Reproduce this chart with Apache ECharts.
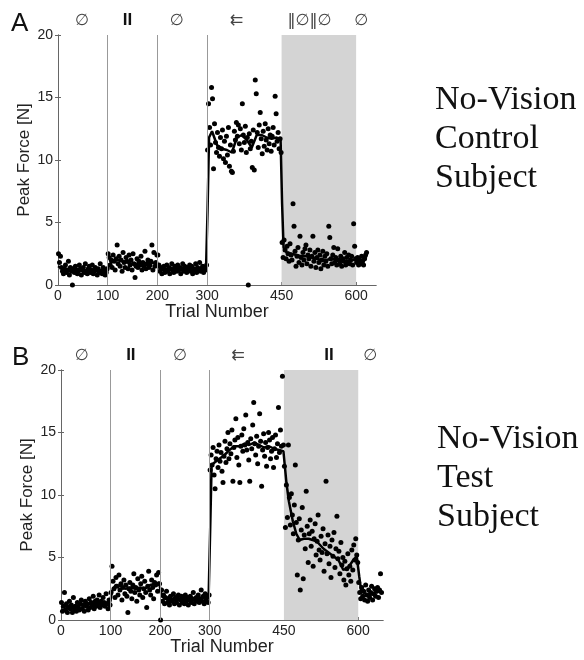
<!DOCTYPE html>
<html>
<head>
<meta charset="utf-8">
<script src="https://cdn.jsdelivr.net/npm/echarts@6/dist/echarts.min.js"></script>
<style>html,body{margin:0;padding:0;background:#fff}#chart{width:584px;height:660px}</style>
</head>
<body>
<div id="chart"></div>
<script>
// 每个条件块的起始试次（点位于 start+1, start+3, ...）
const blockStarts = [0, 100, 200, 300, 450, 600]
const xTicks = [0, 100, 200, 300, 450, 600]
const dividers = [100, 200, 300]
const shaded = [450, 600]

// 顶部条件标记
const condLabelsA = ['∅', 'II', '∅', '⇇', '‖∅‖∅', '∅']
const condLabelsB = ['∅', 'II', '∅', '⇇', 'II', '∅']
const condPosA = [48, 140, 239, 359, 506, 610]
const condPosB = [42, 141, 240, 357, 541, 624]

// A：No-Vision Control Subject，峰值力 [N]
const a1 = [2.5, 1.8, 2.3, 1.4, 1.1, 0.9, 1.3, 1.6, 1.0, 1.2,
  1.9, 0.8, 1.4, 1.1, 0.0, 1.3, 1.0, 1.5, 1.2, 0.9,
  1.1, 1.6, 1.3, 0.8, 1.2, 1.4, 1.0, 1.7, 1.1, 0.9,
  1.3, 1.5, 1.0, 1.2, 1.6, 0.9, 1.1, 1.4, 1.2, 0.8,
  1.3, 1.0, 1.7, 1.1, 0.9, 1.4, 1.2, 0.8, 1.0, 1.3]
const a2 = [2.5, 2.2, 1.6, 2.0, 1.4, 2.4, 1.9, 1.2, 2.1, 3.2,
  1.7, 2.3, 1.5, 2.0, 1.1, 2.6, 1.8, 1.4, 2.2, 1.9,
  1.3, 2.4, 1.6, 2.0, 1.2, 2.5, 1.7, 0.6, 1.5, 2.1,
  1.4, 1.9, 1.6, 2.3, 1.2, 1.8, 1.5, 2.7, 1.3, 1.7,
  2.0, 1.4, 1.6, 1.9, 3.2, 1.2, 2.6, 1.5, 1.8, 2.4]
const a3 = [2.4, 1.6, 1.1, 1.4, 0.9, 1.3, 1.5, 1.0, 1.2, 1.6,
  1.1, 1.4, 0.9, 1.3, 1.7, 1.2, 1.0, 1.5, 1.3, 1.1,
  1.6, 1.2, 1.4, 0.9, 1.3, 1.7, 1.1, 1.5, 1.2, 1.0,
  1.4, 1.3, 1.6, 1.1, 1.5, 0.9, 1.3, 1.2, 1.7, 1.0,
  1.4, 1.2, 1.8, 1.1, 1.3, 1.5, 1.0, 1.4, 1.2, 1.6]
const a4 = [10.8, 14.5, 12.6, 11.2, 15.8, 14.9, 9.3, 12.9, 11.4, 10.6,
  12.2, 11.0, 10.3, 11.8, 10.9, 12.4, 10.1, 11.5, 9.8, 11.9,
  10.4, 12.6, 9.5, 11.2, 9.1, 9.0, 10.7, 12.3, 11.6, 13.0,
  11.9, 12.8, 11.3, 12.5, 10.8, 14.5, 12.0, 11.4, 12.7, 10.6,
  11.8, 0.0, 12.1, 10.9, 11.5, 9.4, 12.4, 9.2, 16.4, 15.3,
  12.2, 11.0, 12.8, 13.8, 11.7, 10.5, 12.3, 11.1, 12.9, 11.6,
  10.8, 12.5, 11.3, 12.0, 10.7, 11.9, 12.6, 11.2, 15.1, 13.7,
  11.5, 12.2, 10.9, 11.7, 10.6]
const a5 = [3.4, 2.2, 3.6, 2.8, 2.1, 3.1, 2.5, 1.9, 3.3, 2.4,
  2.0, 6.5, 4.7, 2.7, 1.5, 2.3, 3.0, 1.8, 3.9, 2.2,
  1.6, 2.6, 2.0, 2.9, 3.2, 1.7, 2.4, 2.1, 2.8, 1.5,
  2.3, 3.9, 1.9, 2.6, 1.4, 2.2, 2.8, 1.8, 2.4, 1.3,
  2.0, 2.7, 1.6, 2.3, 1.9, 2.5, 1.5, 4.7, 3.8, 2.1,
  1.7, 2.4, 3.0, 1.8, 2.2, 1.6, 2.9, 2.0, 1.7, 2.3,
  1.5, 2.1, 1.9, 2.6, 1.6, 2.2, 1.8, 2.4, 1.7, 2.0,
  2.3, 1.6, 4.9, 3.1, 2.1]
const a6 = [1.8, 2.2, 1.6, 2.0, 1.7, 2.3, 1.9, 1.6, 2.1, 2.4, 2.6]
// 滑动平均曲线 [trial, N]
const meanA = [[0, 1.5], [5, 1.4], [10, 1.3], [20, 1.2], [30, 1.1], [40, 1.2], [50, 1.2], [60, 1.1],
  [70, 1.2], [80, 1.1], [90, 1.1], [99, 1.1], [102, 1.6], [110, 1.9], [120, 2.0], [130, 1.9],
  [140, 1.8], [150, 1.7], [160, 1.7], [170, 1.6], [180, 1.7], [190, 1.8], [199, 1.7], [203, 1.4],
  [210, 1.3], [220, 1.2], [230, 1.3], [240, 1.3], [250, 1.3], [260, 1.3], [270, 1.4], [280, 1.3],
  [290, 1.3], [298, 1.4], [301, 6.0], [304, 11.8], [310, 12.3], [320, 11.2], [330, 10.9], [340, 10.8],
  [350, 10.6], [360, 11.8], [370, 12.0], [380, 11.6], [390, 11.0], [400, 12.0], [410, 12.0], [420, 11.8],
  [430, 11.7], [440, 11.8], [448, 11.6], [451, 6.5], [454, 3.0], [460, 2.6], [470, 2.5], [480, 2.4],
  [490, 2.3], [500, 2.3], [510, 2.2], [520, 2.1], [530, 2.0], [540, 2.0], [550, 2.1], [560, 2.0],
  [570, 1.9], [580, 1.9], [590, 2.0], [600, 2.0], [610, 1.9], [621, 2.3]]

// B：No-Vision Test Subject，峰值力 [N]
const b1 = [1.4, 0.7, 1.1, 2.2, 0.8, 1.3, 0.6, 1.0, 1.5, 0.9,
  1.2, 0.6, 1.8, 0.9, 1.1, 0.7, 1.4, 1.0, 0.8, 1.3,
  1.6, 0.9, 1.2, 0.7, 1.5, 1.1, 1.3, 0.8, 1.7, 1.0,
  1.4, 1.2, 1.9, 0.9, 1.5, 1.1, 1.6, 1.3, 2.0, 1.0,
  1.5, 1.2, 1.8, 1.4, 1.1, 2.1, 1.3, 0.9, 1.6, 1.2]
const b2 = [2.2, 4.3, 3.1, 2.5, 1.8, 3.4, 2.7, 2.0, 3.6, 2.4,
  2.9, 1.6, 2.6, 3.2, 2.1, 2.8, 1.9, 0.6, 2.5, 3.0,
  2.3, 1.7, 2.8, 3.7, 2.2, 2.6, 1.5, 3.3, 2.4, 2.0,
  2.9, 3.5, 1.8, 2.5, 3.1, 2.2, 1.0, 2.7, 3.9, 2.4,
  2.0, 3.2, 2.6, 1.7, 3.0, 2.8, 3.6, 2.3, 3.8, 2.9]
const b3 = [0.0, 2.4, 1.5, 2.0, 1.3, 1.8, 2.3, 1.4, 1.7, 1.2,
  1.9, 1.5, 1.6, 2.1, 1.3, 1.8, 1.4, 1.7, 2.0, 1.2,
  1.6, 1.9, 1.4, 1.7, 1.3, 2.0, 1.5, 1.8, 1.2, 1.6,
  1.9, 1.4, 1.7, 2.2, 1.3, 1.6, 1.8, 1.5, 2.0, 1.4,
  1.7, 2.4, 1.5, 1.9, 1.3, 2.1, 1.6, 1.8, 1.4, 2.0]
const b4 = [12.0, 13.2, 12.4, 13.8, 11.6, 10.5, 12.9, 13.5, 12.2, 14.0,
  12.7, 13.4, 11.9, 11.0, 13.1, 14.3, 12.6, 13.7, 15.0, 12.9,
  14.1, 13.3, 15.2, 11.1, 13.8, 14.4, 16.1, 13.0, 14.6, 12.4,
  11.0, 13.9, 14.8, 13.5, 15.3, 14.0, 16.4, 13.6, 14.2, 12.8,
  11.1, 14.5, 13.7, 15.6, 17.4, 14.1, 13.2, 14.7, 12.5, 13.9,
  16.5, 14.3, 10.7, 13.6, 14.9, 13.1, 14.2, 12.3, 13.8, 15.0,
  14.4, 12.9, 13.5, 14.6, 12.2, 13.7, 14.8, 13.0, 14.1, 17.0,
  13.4, 15.2, 13.9, 19.5, 14.0]
const b5 = [12.3, 7.4, 10.8, 8.2, 14.0, 9.8, 7.6, 10.1, 8.4, 6.9,
  9.2, 12.4, 7.8, 3.6, 6.4, 8.1, 2.4, 7.2, 9.0, 3.3,
  6.8, 5.7, 10.3, 7.5, 4.6, 6.9, 8.0, 5.9, 7.1, 4.3,
  6.5, 7.7, 5.2, 6.3, 8.4, 5.6, 4.8, 6.7, 5.4, 7.3,
  3.9, 6.1, 11.1, 5.3, 6.8, 4.5, 5.9, 3.4, 6.4, 5.1,
  7.0, 4.2, 5.7, 8.3, 4.9, 5.5, 3.7, 6.2, 4.4, 5.0,
  3.2, 4.7, 2.8, 4.1, 5.3, 3.6, 4.3, 3.1, 5.6, 4.0,
  6.0, 4.8, 6.5, 5.2, 4.6]
const b6 = [3.0, 2.2, 1.7, 2.6, 1.9, 2.3, 1.6, 2.8, 2.0, 1.5,
  2.4, 1.8, 2.2, 2.7, 1.6, 2.1, 2.5, 1.9, 2.3, 2.6,
  1.8, 2.4, 3.7, 2.2]
const meanB = [[0, 1.0], [10, 1.1], [20, 1.0], [30, 1.1], [40, 1.2], [50, 1.2], [60, 1.3], [70, 1.3],
  [80, 1.4], [90, 1.4], [99, 1.4], [103, 2.3], [110, 2.8], [120, 2.7], [130, 2.5], [140, 2.6],
  [150, 2.5], [160, 2.6], [170, 2.5], [180, 2.8], [190, 2.9], [198, 3.0], [203, 1.9], [210, 1.7],
  [220, 1.6], [230, 1.6], [240, 1.7], [250, 1.6], [260, 1.6], [270, 1.7], [280, 1.7], [290, 1.8],
  [298, 1.8], [301, 7.0], [304, 12.4], [310, 12.6], [320, 12.9], [330, 13.2], [340, 13.6], [350, 13.9],
  [360, 13.9], [370, 14.1], [380, 14.0], [390, 14.2], [400, 14.0], [410, 13.8], [420, 13.9], [430, 13.7],
  [440, 13.6], [449, 13.5], [455, 11.0], [460, 9.5], [468, 7.9], [475, 6.9], [482, 6.4], [490, 6.5],
  [500, 6.5], [516, 6.3], [530, 5.7], [540, 5.4], [550, 5.1], [560, 4.8], [570, 4.0], [580, 4.2],
  [590, 4.8], [597, 5.1], [602, 3.5], [606, 2.3], [615, 2.1], [625, 2.0], [635, 2.2], [646, 2.3]]

const toPoints = (blocks) => blocks.map((vals, k) => vals.map((v, i) => [blockStarts[k] + 1 + 2 * i, v])).flat()
const pointsA = toPoints([a1, a2, a3, a4, a5, a6])
const pointsB = toPoints([b1, b2, b3, b4, b5, b6])

const sans = 'Liberation Sans'
const frame = '#666'

const panel = (gi, xMax, labels, labelPos) => {
  const xs = [
    {
      gridIndex: gi, type: 'value', min: 0, max: xMax,
      axisLine: { lineStyle: { color: frame, width: 1 } },
      axisTick: { inside: true, length: 3, customValues: xTicks, lineStyle: { color: frame } },
      axisLabel: { customValues: xTicks, color: '#222', fontFamily: sans, fontSize: 14, margin: 4 },
      splitLine: { show: false },
      name: 'Trial Number', nameLocation: 'middle', nameGap: 18, nameMoveOverlap: false,
      nameTextStyle: { color: '#222', fontFamily: sans, fontSize: 18 }
    },
    {
      gridIndex: gi, type: 'value', position: 'top', min: 0, max: xMax,
      axisLine: { lineStyle: { color: frame, width: 1 } },
      axisTick: { show: false },
      splitLine: { show: false },
      axisLabel: {
        customValues: labelPos, margin: 6,
        formatter: (v) => {
          const t = labels[labelPos.indexOf(v)]
          return t === 'II' ? '{b|II}' : '{n|' + t + '}'
        },
        rich: {
          b: { fontFamily: sans, fontWeight: 'bold', fontSize: 17, color: '#111' },
          n: { fontFamily: 'DejaVu Sans', fontSize: 16, color: '#444' }
        }
      }
    }
  ]
  const ys = [
    {
      gridIndex: gi, type: 'value', min: 0, max: 20, interval: 5,
      axisLine: { lineStyle: { color: frame, width: 1 } },
      axisTick: { inside: true, length: 3, lineStyle: { color: frame } },
      axisLabel: { color: '#222', fontFamily: sans, fontSize: 14, margin: 5 },
      splitLine: { show: false },
      name: 'Peak Force [N]', nameLocation: 'middle', nameGap: 25, nameMoveOverlap: false,
      nameTextStyle: { color: '#222', fontFamily: sans, fontSize: 17 }
    },
    {
      gridIndex: gi, type: 'value', position: 'right', min: 0, max: 20, interval: 5,
      axisLine: { lineStyle: { color: frame, width: 1 } },
      axisTick: { inside: true, length: 3, lineStyle: { color: frame } },
      axisLabel: { show: false },
      splitLine: { show: false }
    }
  ]
  return { xs, ys }
}

const pA = panel(0, 640, condLabelsA, condPosA)
const pB = panel(1, 650, condLabelsB, condPosB)

const scatterSeries = (gi, data) => ({
  type: 'scatter', xAxisIndex: gi * 2, yAxisIndex: gi * 2, data,
  symbolSize: 5, itemStyle: { color: '#000', opacity: 1 }, z: 3,
  markArea: {
    silent: true, itemStyle: { color: '#d4d4d4', opacity: 1 },
    data: [[{ xAxis: shaded[0] }, { xAxis: shaded[1] }]]
  },
  markLine: {
    silent: true, symbol: 'none', label: { show: false },
    lineStyle: { color: '#999', width: 1, type: 'solid' },
    data: dividers.map(d => ({ xAxis: d }))
  }
})
const lineSeries = (gi, data) => ({
  type: 'line', xAxisIndex: gi * 2, yAxisIndex: gi * 2, data,
  showSymbol: false, lineStyle: { color: '#000', width: 2.5 }, z: 4
})

const chart = echarts.init(document.getElementById('chart'))
chart.setOption({
  animation: false,
  backgroundColor: '#fff',
  grid: [
    { left: 58, top: 35, width: 318, height: 250 },
    { left: 61, top: 370, width: 322, height: 250 }
  ],
  xAxis: [...pA.xs, ...pB.xs],
  yAxis: [...pA.ys, ...pB.ys],
  series: [
    scatterSeries(0, pointsA), lineSeries(0, meanA),
    scatterSeries(1, pointsB), lineSeries(1, meanB)
  ],
  graphic: [
    { type: 'text', left: 11, top: 11, style: { text: 'A', font: '26px "Liberation Sans"', fill: '#111' } },
    { type: 'text', left: 12, top: 345, style: { text: 'B', font: '26px "Liberation Sans"', fill: '#111' } },
    { type: 'text', left: 435, top: 81, style: { text: 'No-Vision\nControl\nSubject', font: '34px "Liberation Serif"', lineHeight: 39, fill: '#111' } },
    { type: 'text', left: 437, top: 420, style: { text: 'No-Vision\nTest\nSubject', font: '34px "Liberation Serif"', lineHeight: 39, fill: '#111' } }
  ]
})
</script>
</body>
</html>
